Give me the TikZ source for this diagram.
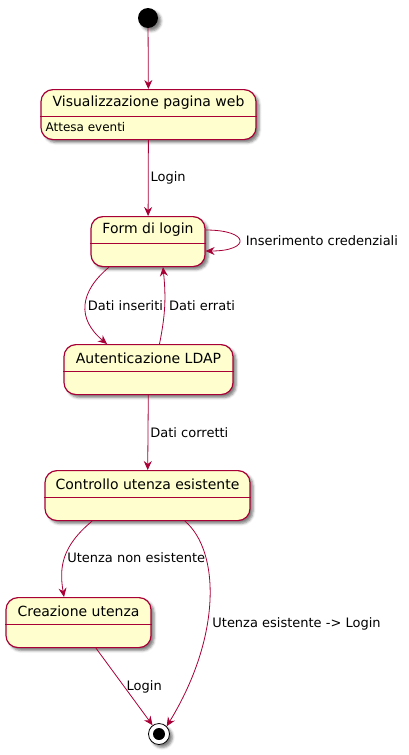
\documentclass[tikz,border=0pt]{standalone}
\usepackage{fontspec}
\setmainfont{DejaVu Sans}
\usetikzlibrary{arrows.meta,shadows.blur}
\definecolor{umlred}{HTML}{A80036}
\definecolor{umlfill}{HTML}{FEFECE}
\tikzset{
  umlshadow/.style = {blur shadow={shadow xshift=3pt, shadow yshift=-3pt, shadow blur radius=2.5pt, shadow opacity=50}},
  state/.style = {draw=umlred, fill=umlfill, line width=1.2pt, rounded corners=12pt, minimum height=50pt, inner sep=0pt, umlshadow},
  title/.style = {font=\fontsize{14}{16}\selectfont, inner sep=0pt},
  trans/.style = {draw=umlred, line width=0.8pt, -{Stealth[length=9pt,width=8pt,inset=3pt]}},
  lbl/.style = {font=\fontsize{13}{15}\selectfont, text=black, inner sep=2pt}
}
% state box: name, x, top, width, title
\newcommand{\umlstate}[5]{%
  \node[state, minimum width=#4pt, anchor=north] (#1) at (#2,#3) {};
  \node[title] (#1-t) at ([yshift=-14pt]#1.north) {#5};
  \draw[umlred, line width=1pt] ([yshift=-27pt]#1.north west) -- ([yshift=-27pt]#1.north east);
}

\begin{document}
\begin{tikzpicture}[x=1pt,y=-1pt]
  \useasboundingbox (0,0) rectangle (409,755);
  % initial and final states
  \node[circle, fill=black, minimum size=20pt, inner sep=0pt, umlshadow] (start) at (148,18) {};
  \node[circle, draw=black, fill=white, line width=0.8pt, minimum size=21pt, inner sep=0pt, umlshadow] (final) at (159,734) {};
  \node[circle, fill=black, minimum size=12pt, inner sep=0pt] (final-in) at (final) {};
  % states
  \umlstate{vis}{148.5}{89}{215}{Visualizzazione pagina web}
  \node[anchor=west, inner sep=0pt, font=\fontsize{12}{14}\selectfont] (vis-a) at ([xshift=5pt,yshift=-38pt]vis.north west) {Attesa eventi};
  \umlstate{form}{148}{216}{114}{Form di login}
  \umlstate{ldap}{148.5}{344}{169}{Autenticazione LDAP}
  \umlstate{ctrl}{147.5}{470}{205}{Controllo utenza esistente}
  \umlstate{cre}{78.5}{597}{145}{Creazione utenza}
  % transitions
  \draw[trans] (start) -- (vis);
  \draw[trans] (vis) -- node[lbl,right] {Login} (form);
  \draw[trans] ([yshift=-14pt]form.north east) .. controls +(45,0) and +(45,0) .. node[lbl,right,xshift=4pt] {Inserimento credenziali} ([yshift=-35pt]form.north east);
  \draw[trans] ([xshift=-39pt]form.south) .. controls +(-30,25) and +(-30,-25) .. node[lbl,right] {Dati inseriti} ([xshift=-41.5pt]ldap.north);
  \draw[trans] ([xshift=11pt]ldap.north) .. controls +(6,-30) and +(3,30) .. node[lbl,right,xshift=2pt] {Dati errati} ([xshift=15pt]form.south);
  \draw[trans] (ldap) -- node[lbl,right] {Dati corretti} (ctrl);
  \draw[trans] ([xshift=-55.5pt]ctrl.south) .. controls +(-30,25) and +(-5,-30) .. node[lbl,right,pos=.5] {Utenza non esistente} ([xshift=-14.5pt]cre.north);
  \draw[trans] ([xshift=37.5pt]ctrl.south) .. controls +(35,30) and +(55,-90) .. node[lbl,right,pos=.6,xshift=3pt] {Utenza esistente -> Login} (final.north east);
  \draw[trans] ([xshift=17.5pt]cre.south) -- node[lbl,right] {Login} (final);
\end{tikzpicture}
\end{document}
